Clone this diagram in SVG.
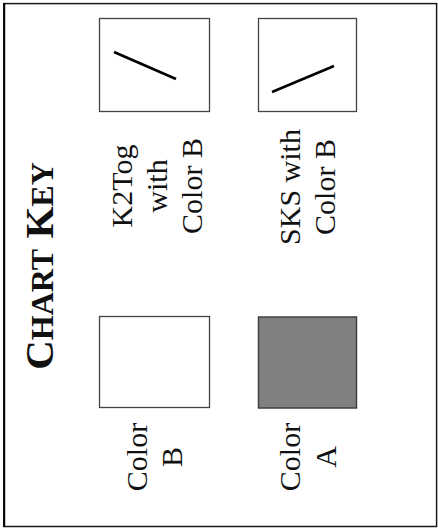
<svg xmlns="http://www.w3.org/2000/svg" width="438" height="529" viewBox="0 0 438 529">
  <style>
    .lbl { font-family: "Liberation Serif", "Times New Roman", serif; font-size: 30px; fill: #111; text-anchor: middle; }
    .ttl { font-family: "Liberation Serif", "Times New Roman", serif; font-weight: bold; fill: #111; text-anchor: middle; }
    .box { fill: #ffffff; stroke: #444444; stroke-width: 1.3; }
    .dark { fill: #808080; stroke: #404040; stroke-width: 1.5; }
    .stitch { stroke: #000000; stroke-width: 2.6; stroke-linecap: butt; }
  </style>
  <rect width="438" height="529" fill="#ffffff"/>
  <g id="frame">
    <rect x="4" y="3.6" width="432.6" height="522.9" fill="none" stroke="#1a1a1a" stroke-width="1.5"/>
    <line x1="4.2" y1="3" x2="4.2" y2="527" stroke="#000" stroke-width="2"/>
  </g>
  <g id="title">
    <text class="ttl" transform="translate(53,266) rotate(-90)"><tspan font-size="41">C</tspan><tspan font-size="32">HART</tspan><tspan font-size="41"> K</tspan><tspan font-size="32">EY</tspan></text>
  </g>
  <g id="k2tog">
    <rect class="box" x="99.5" y="18.5" width="110" height="93"/>
    <line class="stitch" x1="114" y1="52" x2="176" y2="79"/>
    <text class="lbl" transform="translate(132,186) rotate(-90)">K2Tog</text>
    <text class="lbl" transform="translate(167,186) rotate(-90)">with</text>
    <text class="lbl" transform="translate(202,186) rotate(-90)">Color B</text>
  </g>
  <g id="sks">
    <rect class="box" x="258.5" y="18.5" width="98" height="93"/>
    <line class="stitch" x1="272" y1="92" x2="334" y2="66"/>
    <text class="lbl" transform="translate(300,187) rotate(-90)">SKS with</text>
    <text class="lbl" transform="translate(335,187) rotate(-90)">Color B</text>
  </g>
  <g id="colorB">
    <rect class="box" x="99.5" y="316.5" width="110" height="91"/>
    <text class="lbl" transform="translate(147,457) rotate(-90)">Color</text>
    <text class="lbl" transform="translate(182,457) rotate(-90)">B</text>
  </g>
  <g id="colorA">
    <rect class="dark" x="258.5" y="317" width="98" height="91"/>
    <text class="lbl" transform="translate(300,457) rotate(-90)">Color</text>
    <text class="lbl" transform="translate(336,457) rotate(-90)">A</text>
  </g>
  <g id="connectors"></g>
</svg>
